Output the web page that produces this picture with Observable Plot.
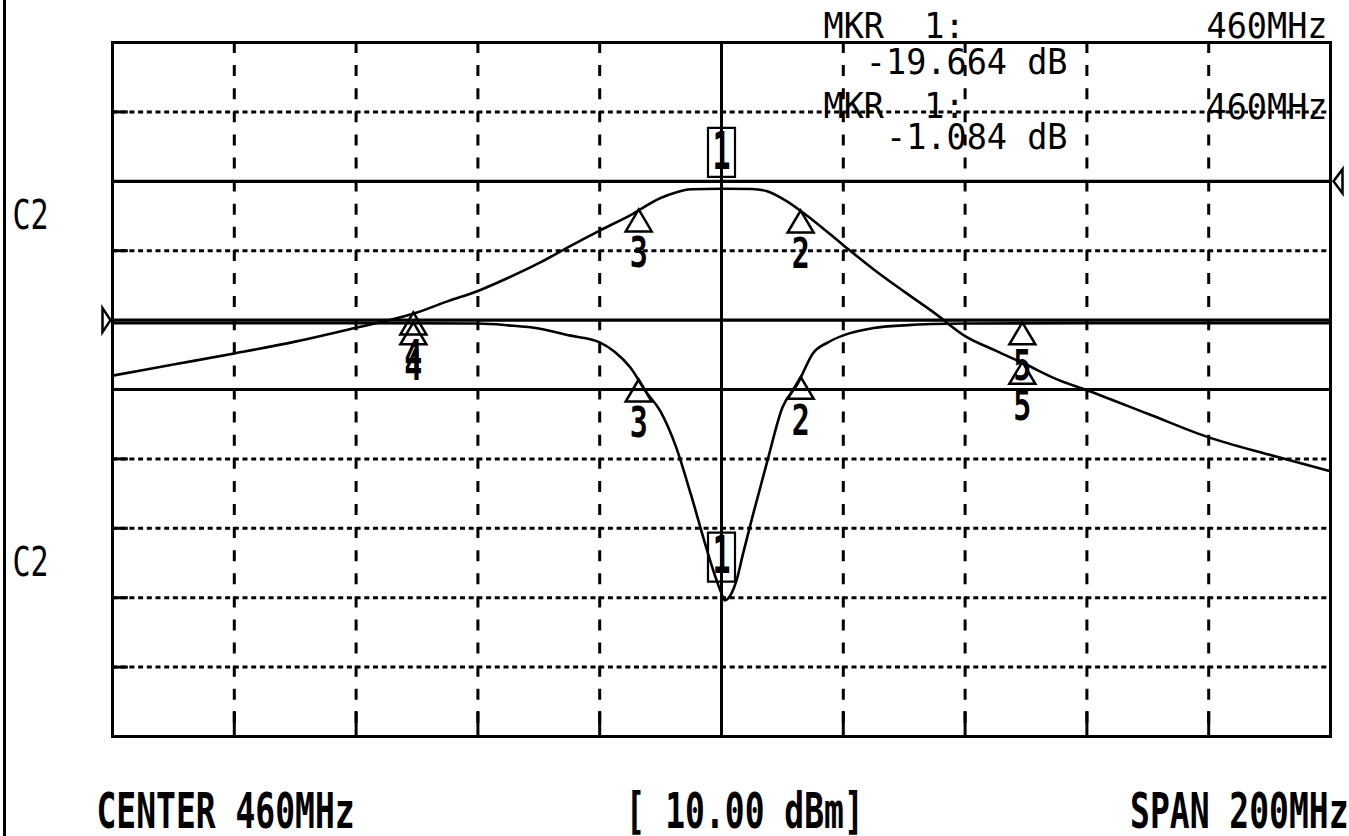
<!DOCTYPE html>
<html>
<head>
<meta charset="utf-8">
<script src="https://cdn.jsdelivr.net/npm/d3@7"></script>
<script src="https://cdn.jsdelivr.net/npm/@observablehq/plot@0.6"></script>
<style>
  html, body { margin: 0; padding: 0; background: #fff; overflow: hidden; }
  #wrap { position: relative; width: 1349px; height: 836px; }
  #edge { position: absolute; left: 3px; top: 0; width: 3px; height: 836px; background: #000; }
  svg text { white-space: pre; }
</style>
</head>
<body>
<div id="wrap"><div id="edge"></div></div>
<script>
// ---- Analyzer settings ----
const centerMHz = 460;
const spanMHz = 200;
const divisions = 10;

// ---- Channel settings (upper trace, lower trace) ----
const refDivision = [8, 6];      // reference line, divisions from bottom
const dbPerDivision = [10, 5];
const refLevelDb = [0, 0];

// ---- Upper trace (transmission) ----
const upperFreqMHz = [360, 370, 380, 390, 400, 405, 410, 415, 420, 425, 430, 435, 440, 445, 450, 452.5, 455, 460, 465, 467.5, 470, 475, 480, 485, 490, 495, 500, 505, 510, 515, 520, 530, 540, 550, 560];
const upperDb = [-28.0, -26.4, -24.8, -23.1, -21.1, -20.1, -18.9, -17.3, -15.8, -13.9, -11.8, -9.4, -7.1, -4.9, -2.4, -1.6, -1.15, -1.08, -1.1, -1.45, -2.5, -5.6, -9.2, -12.7, -15.9, -19.0, -22.3, -24.4, -26.4, -28.5, -30.1, -33.5, -36.9, -39.4, -41.8];

// ---- Lower trace (reflection) ----
const lowerFreqMHz = [360, 380, 400, 420, 425, 430, 435, 440, 442.5, 445, 447.5, 450, 452.5, 455, 457.5, 459, 460, 460.5, 461.5, 462.5, 463.5, 465, 467.5, 470, 472.5, 475, 477.5, 480, 485, 490, 500, 520, 540, 560];
const lowerDb = [-0.22, -0.22, -0.22, -0.25, -0.38, -0.6, -1.1, -1.6, -2.3, -3.4, -5.1, -6.6, -9.1, -12.6, -16.4, -18.5, -19.7, -20.2, -19.8, -18.7, -16.9, -14.3, -10.2, -6.3, -4.6, -2.4, -1.6, -1.1, -0.57, -0.38, -0.25, -0.22, -0.22, -0.22];

// ---- Markers ----
const markerIds = ["1", "2", "3", "4", "5"];
const markerFreqMHz = [460, 473.0, 446.4, 409.4, 509.4];

// ---- Texts ----
const readoutLabels = ["MKR  1:", "MKR  1:"];
const readoutFreqs = ["460MHz", "460MHz"];
const readoutValues = ["-19.664 dB", "-1.084 dB"];
const channelLabels = ["C2", "C2"];
const footerLeft = "CENTER 460MHz";
const footerMid = "[ 10.00 dBm]";
const footerRight = "SPAN 200MHz";

// ---- Derived tables ----
const xMin = centerMHz - spanMHz / 2, xMax = centerMHz + spanMHz / 2;
const toDiv = (c, db) => refDivision[c] + (db - refLevelDb[c]) / dbPerDivision[c];
const upper = upperFreqMHz.map((f, i) => ({f, div: toDiv(0, upperDb[i])}));
const lower = lowerFreqMHz.map((f, i) => ({f, div: toDiv(1, lowerDb[i])}));

function interp(fs, vs, f) {
  const i = d3.bisectLeft(fs, f);
  if (fs[i] === f) return vs[i];
  const t = (f - fs[i - 1]) / (fs[i] - fs[i - 1]);
  return vs[i - 1] + t * (vs[i] - vs[i - 1]);
}
const markerPts = [];
markerIds.forEach((id, k) => {
  const f = markerFreqMHz[k];
  markerPts.push({id, f, div: toDiv(0, interp(upperFreqMHz, upperDb, f))});
  markerPts.push({id, f, div: toDiv(1, interp(lowerFreqMHz, lowerDb, f))});
});
const activePts = markerPts.filter(d => d.id === "1");
const otherPts = markerPts.filter(d => d.id !== "1");

const xGrid = d3.range(1, divisions).map(i => xMin + i * spanMHz / divisions);
const dashedX = xGrid.filter(f => f !== centerMHz);
const solidRows = [divisions / 2, ...refDivision];
const dottedRows = d3.range(1, divisions).filter(d => !solidRows.includes(d));

// ---- Marker glyphs ----
const triangleGlyph = {draw(ctx) { ctx.moveTo(0, -1); ctx.lineTo(13, 21); ctx.lineTo(-13, 21); ctx.closePath(); }};
const boxGlyph = {draw(ctx) { ctx.rect(-13.5, -61, 27, 49); ctx.moveTo(0, -12); ctx.lineTo(0, 0); }};
const refRightGlyph = {draw(ctx) { ctx.moveTo(-10, -12); ctx.lineTo(-10, 12); ctx.lineTo(-2, 0); ctx.closePath(); }};
const refLeftGlyph = {draw(ctx) { ctx.moveTo(12, -12); ctx.lineTo(12, 12); ctx.lineTo(3, 0); ctx.closePath(); }};

const mono = "DejaVu Sans Mono";
const readoutStyle = {lineAnchor: "middle", fontSize: 33.5, fontFamily: mono, fill: "black"};
const footerStyle = {lineAnchor: "middle", fontSize: 33, fontWeight: "bold", fontFamily: mono, fill: "black"};

const chart = Plot.plot({
  width: 1349,
  height: 836,
  marginLeft: 112,
  marginRight: 19,
  marginTop: 42,
  marginBottom: 100,
  x: {domain: [xMin, xMax], axis: null},
  y: {domain: [0, divisions], axis: null},
  style: {background: "white", color: "black", fontFamily: mono},
  marks: [
    // graticule
    Plot.ruleY(dottedRows, {stroke: "black", strokeWidth: 3, strokeDasharray: "5,3.7"}),
    Plot.ruleY(dottedRows, {x1: xMin, x2: xMin + 2.6, stroke: "black", strokeWidth: 3}),
    Plot.ruleX(dashedX, {stroke: "black", strokeWidth: 3, strokeDasharray: "11,12.1"}),
    Plot.ruleX(dashedX, {y1: 0, y2: 0.36, stroke: "black", strokeWidth: 3}),
    Plot.ruleY(solidRows, {stroke: "black", strokeWidth: 3.2}),
    Plot.ruleX([centerMHz], {stroke: "black", strokeWidth: 3}),
    Plot.frame({stroke: "black", strokeWidth: 3}),

    // traces
    Plot.line(upper, {x: "f", y: "div", curve: "monotone-x", stroke: "black", strokeWidth: 2.6}),
    Plot.line(lower, {x: "f", y: "div", curve: "monotone-x", stroke: "black", strokeWidth: 2.6}),

    // reference level arrows
    Plot.dot([refDivision[1]], {x: () => xMin, y: d => d, symbol: refRightGlyph, fill: "white", stroke: "black", strokeWidth: 2.5}),
    Plot.dot([refDivision[0]], {x: () => xMax, y: d => d, symbol: refLeftGlyph, fill: "white", stroke: "black", strokeWidth: 2.5}),

    // markers
    Plot.dot(otherPts, {x: "f", y: "div", symbol: triangleGlyph, fill: "none", stroke: "black", strokeWidth: 2.5}),
    Plot.text(otherPts, {x: "f", y: "div", text: "id", dy: 43, fontSize: 30, fontWeight: "bold", fontFamily: mono, fill: "black"}),
    Plot.dot(activePts, {x: "f", y: "div", symbol: boxGlyph, fill: "none", stroke: "black", strokeWidth: 2.2}),
    Plot.text(activePts, {x: "f", y: "div", text: "id", dy: -36.5, fontSize: 30, fontWeight: "bold", fontFamily: mono, fill: "black"}),

    // channel labels
    Plot.text(channelLabels, {x: () => xMin, y: (d, i) => divisions * (i ? 1 : 3) / 4, text: d => d, dx: -100, textAnchor: "start", fontSize: 30, fontFamily: mono, fill: "black"}),

    // marker readouts (two rows per channel)
    Plot.text([readoutLabels[0]], {...readoutStyle, frameAnchor: "top-left", text: d => d, dx: 711, dy: -15.5, textAnchor: "start"}),
    Plot.text([readoutFreqs[0]], {...readoutStyle, frameAnchor: "top-right", text: d => d, dx: -3, dy: -15.5, textAnchor: "end"}),
    Plot.text([readoutValues[0]], {...readoutStyle, frameAnchor: "top-right", text: d => d, dx: -263, dy: 20.5, textAnchor: "end"}),
    Plot.text([readoutLabels[1]], {...readoutStyle, frameAnchor: "top-left", text: d => d, dx: 711, dy: 64.5, textAnchor: "start"}),
    Plot.text([readoutFreqs[1]], {...readoutStyle, frameAnchor: "top-right", text: d => d, dx: -3, dy: 65, textAnchor: "end"}),
    Plot.text([readoutValues[1]], {...readoutStyle, frameAnchor: "top-right", text: d => d, dx: -263, dy: 95.5, textAnchor: "end"}),

    // footer
    Plot.text([footerLeft], {...footerStyle, frameAnchor: "bottom-left", text: d => d, dx: -16, dy: 76, textAnchor: "start"}),
    Plot.text([footerMid], {...footerStyle, frameAnchor: "bottom", text: d => d, dx: -96, dy: 76, textAnchor: "start"}),
    Plot.text([footerRight], {...footerStyle, frameAnchor: "bottom-right", text: d => d, dx: 18, dy: 76, textAnchor: "end"})
  ]
});

// vertical stretch of the instrument's tall, narrow glyphs
const stretchFor = (s) => {
  if (s === footerLeft || s === footerMid || s === footerRight) return 1.5;
  if (s === "1") return 1.7;
  if (/^[2-5]$/.test(s)) return 1.45;
  if (s === "C2") return 1.37;
  return 1.07;
};
chart.querySelectorAll("text").forEach(t => {
  const s = stretchFor(t.textContent);
  t.setAttribute("transform", (t.getAttribute("transform") || "") + ` scale(1,${s})`);
});

document.getElementById("wrap").appendChild(chart);
</script>
</body>
</html>
